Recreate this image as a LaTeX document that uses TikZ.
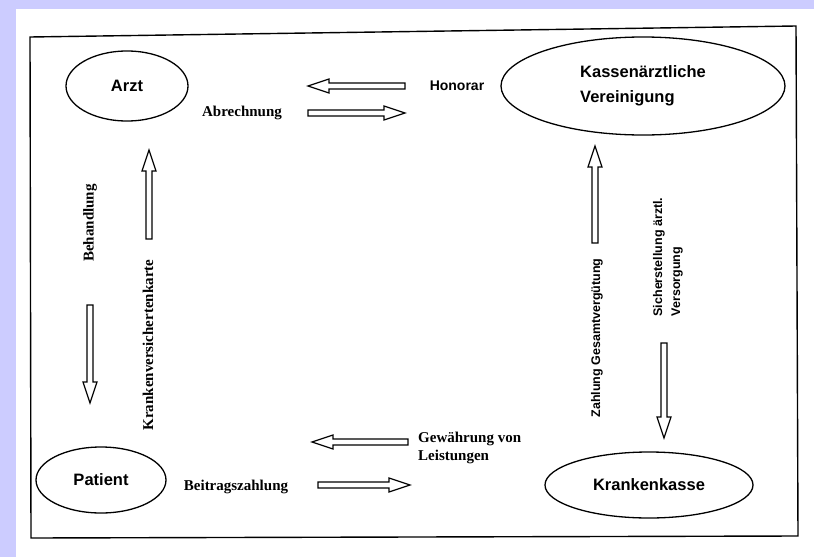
\documentclass[tikz,border=0pt]{standalone}
\usepackage{fontspec}
\setmainfont{Liberation Serif}
\newfontfamily\sansb{Liberation Sans}
\usetikzlibrary{shapes.geometric}
\definecolor{lav}{RGB}{204,204,255}
\newcommand\holarrow[3]{\draw[harr, shift={(#1)}, rotate=#2] (0,3) -- ({#3-21},3) -- ({#3-21},7) -- (#3,0) -- ({#3-21},-7) -- ({#3-21},-3) -- (0,-3) -- cycle;}
\begin{document}
\begin{tikzpicture}[x=1pt,y=-1pt,
  ell/.style={draw, ellipse, line width=1.3pt, inner sep=0pt, font=\sansb\bfseries\fontsize{16.5}{25}\selectfont},
  slab/.style={font=\sansb\bfseries\fontsize{14}{16}\selectfont, inner sep=0pt},
  vslab/.style={font=\sansb\bfseries\fontsize{12.5}{18}\selectfont, inner sep=0pt, rotate=90},
  rlab/.style={font=\bfseries\fontsize{15}{18}\selectfont, inner sep=0pt},
  harr/.style={draw, line width=1.2pt, fill=white, line join=miter}]
\useasboundingbox (0,0) rectangle (814,557);
\fill[lav] (0,0) rectangle (814,557);
\fill[white] (16,9) rectangle (814,557);
\draw[line width=1.4pt] (30,37) -- (796,26) -- (798,536) -- (31,538) -- cycle;

% nodes
\node[ell, minimum width=122pt, minimum height=70pt] (arzt) at (127,86) {Arzt};
\node[ell, minimum width=284pt, minimum height=98pt, align=left] (kv) at (643,86) {Kassenärztliche\\Vereinigung};
\node[ell, minimum width=130pt, minimum height=66pt] (patient) at (101,480) {Patient};
\node[ell, minimum width=208pt, minimum height=66pt] (kasse) at (649,485) {Krankenkasse};

% labels
\node[slab] (honorar) at (457,86) {Honorar};
\node[rlab] (abr) at (242,113) {Abrechnung};
\node[rlab, rotate=90] (beh) at (90,223) {Behandlung};
\node[rlab, rotate=90] (kvk) at (148,345) {Krankenversichertenkarte};
\node[vslab] (zahl) at (597,338) {Zahlung Gesamtvergütung};
\node[vslab, align=left] (sich) at (668,257) {Sicherstellung ärztl.\\Versorgung};
\node[rlab, align=left, anchor=west] (gew) at (418,448) {Gewährung von\\Leistungen};
\node[rlab] (beit) at (236,487) {Beitragszahlung};

% hollow arrows
\holarrow{405,86}{180}{97}
\holarrow{308,113}{0}{97}
\holarrow{90,305}{-90}{98}
\holarrow{149,239}{90}{89}
\holarrow{595,243}{90}{97}
\holarrow{664,343}{-90}{95}
\holarrow{408,442}{180}{96}
\holarrow{318,485}{0}{92}
\end{tikzpicture}
\end{document}
